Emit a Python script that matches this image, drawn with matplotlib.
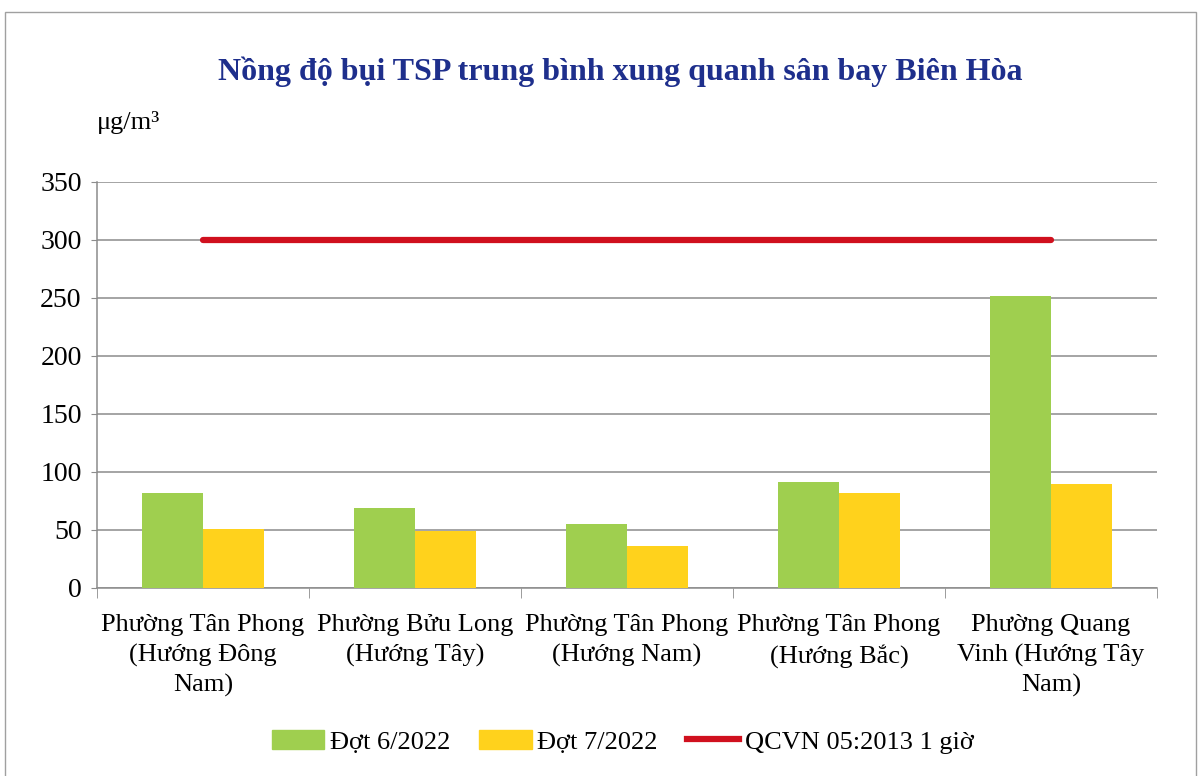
import numpy as np
import matplotlib.pyplot as plt
from matplotlib.patches import Rectangle, Patch
from matplotlib.lines import Line2D

plt.rcParams['font.family'] = ['Liberation Serif', 'DejaVu Serif']

# du lieu
categories = [
    "Phường Tân Phong\n(Hướng Đông\nNam)",
    "Phường Bửu Long\n(Hướng Tây)",
    "Phường Tân Phong\n(Hướng Nam)",
    "Phường Tân Phong\n(Hướng Bắc)",
    "Phường Quang\nVinh (Hướng Tây\nNam)",
]
dot_6_2022 = [82, 69, 55, 91, 252]
dot_7_2022 = [51, 49, 36, 82, 90]
qcvn = [300, 300, 300, 300, 300]
series_names = ["Đợt 6/2022", "Đợt 7/2022", "QCVN 05:2013 1 giờ"]
y_ticks = [0, 50, 100, 150, 200, 250, 300, 350]

green = '#9FCF4F'
yellow = '#FFD21C'
red = '#D0101E'
grid_c = '#8C8C8C'

fig = plt.figure(figsize=(12.02, 7.76), dpi=100)
ax = fig.add_axes([0.0807, 0.2423, 0.8819, 0.5232])

x = np.arange(len(categories))
w = 1 / 3.5
ax.bar(x - w / 2, dot_6_2022, width=w, color=green, zorder=3)
ax.bar(x + w / 2, dot_7_2022, width=w, color=yellow, zorder=3)
ax.plot(x, qcvn, color=red, lw=4.5, solid_capstyle='round', zorder=4)

ax.set_xlim(-0.5, len(categories) - 0.5)
ax.set_ylim(0, 350)
ax.set_yticks(y_ticks)
ax.yaxis.grid(True, color=grid_c, lw=1.1, zorder=0)
ax.set_axisbelow(True)

ax.set_xticks(x)
ax.set_xticklabels(categories, fontsize=19, linespacing=1.42)
ax.set_xticks(np.arange(-0.5, len(categories)), minor=True)
ax.tick_params(axis='x', which='major', length=0, pad=19)
ax.tick_params(axis='x', which='minor', length=7, color=grid_c, direction='out')
ax.tick_params(axis='y', length=4, color=grid_c, labelsize=20, pad=7)

for s in ['top', 'right']:
    ax.spines[s].set_visible(False)
for s in ['left', 'bottom']:
    ax.spines[s].set_color(grid_c)
    ax.spines[s].set_linewidth(1.1)

fig.text(0.516, 0.907, "Nồng độ bụi TSP trung bình xung quanh sân bay Biên Hòa",
         ha='center', va='center', fontsize=23, fontweight='bold', color='#1E2F8C')
fig.text(0.081, 0.842, "μg/m³", ha='left', va='center', fontsize=19)

handles = [Patch(color=green), Patch(color=yellow), Line2D([], [], color=red, lw=4.5)]
fig.legend(handles, series_names, loc='center', bbox_to_anchor=(0.518, 0.044), ncol=3,
           frameon=False, fontsize=19, handlelength=2.0, handleheight=0.7,
           columnspacing=1.1, handletextpad=0.2)

# khung ngoai
fig.add_artist(Rectangle((0.004, -0.01), 0.991, 0.995, transform=fig.transFigure,
                         fill=False, edgecolor='#A0A0A0', lw=1.0))

fig.savefig('out.png', dpi=100)
